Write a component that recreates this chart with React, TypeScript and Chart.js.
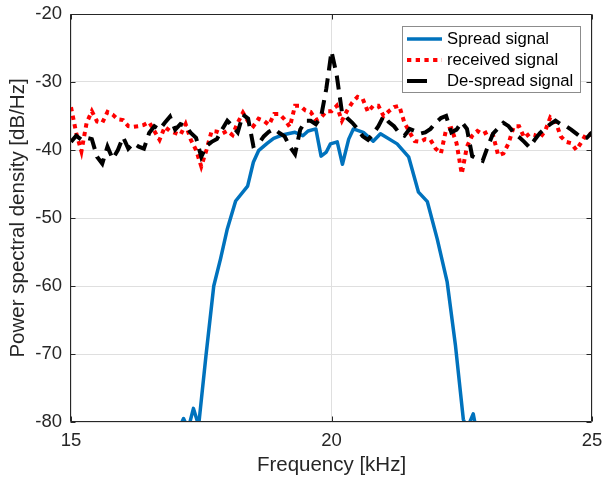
import React, { useEffect, useRef } from "react";
import { Chart, registerables } from "chart.js";

Chart.register(...registerables);

// Frequency grid (kHz) for received / de-spread PSD estimates
const FREQ = [
  15.0, 15.1, 15.2, 15.3, 15.4, 15.5, 15.6, 15.7, 15.8, 15.9,
  16.0, 16.1, 16.2, 16.3, 16.4, 16.5, 16.6, 16.7, 16.8, 16.9,
  17.0, 17.1, 17.2, 17.3, 17.4, 17.5, 17.6, 17.7, 17.8, 17.9,
  18.0, 18.1, 18.2, 18.3, 18.4, 18.5, 18.6, 18.7, 18.8, 18.9,
  19.0, 19.1, 19.2, 19.3, 19.4, 19.5, 19.6, 19.7, 19.8, 19.9,
  20.0, 20.1, 20.2, 20.3, 20.4, 20.5, 20.6, 20.7, 20.8, 20.9,
  21.0, 21.1, 21.2, 21.3, 21.4, 21.5, 21.6, 21.7, 21.8, 21.9,
  22.0, 22.1, 22.2, 22.3, 22.4, 22.5, 22.6, 22.7, 22.8, 22.9,
  23.0, 23.1, 23.2, 23.3, 23.4, 23.5, 23.6, 23.7, 23.8, 23.9,
  24.0, 24.1, 24.2, 24.3, 24.4, 24.5, 24.6, 24.7, 24.8, 24.9,
  25.0,
];

// received signal PSD [dB/Hz]
const RECEIVED = [
  -33.7, -37.5, -40.2, -36.0, -34.3, -35.8, -36.0, -34.4, -34.8, -35.5,
  -35.6, -36.5, -36.6, -36.5, -36.3, -35.9, -37.2, -38.5, -36.6, -37.2,
  -37.5, -37.8, -36.2, -38.5, -40.0, -42.4, -40.0, -37.2, -37.3, -37.6,
  -37.2, -37.8, -36.0, -34.5, -35.8, -36.5, -35.4, -35.7, -36.3, -34.7,
  -34.7, -35.5, -36.6, -33.5, -33.5, -34.2, -34.4, -35.6, -35.2, -34.3,
  -34.3, -33.5, -35.7, -34.2, -33.0, -32.2, -32.5, -34.4, -33.5, -33.5,
  -35.0, -34.3, -33.7, -33.5, -36.0, -37.4, -38.7, -38.8, -38.4, -38.5,
  -39.8, -40.5, -37.0, -36.8, -39.0, -43.5, -39.5, -37.9, -37.2, -37.7,
  -37.3, -37.8, -40.8, -40.5, -39.0, -36.5, -36.5, -38.2, -37.6, -37.8,
  -38.2, -37.2, -35.2, -35.8, -38.0, -38.8, -39.0, -40.0, -38.8, -37.5,
  -37.8,
];

// de-spread signal PSD [dB/Hz]
const DESPREAD = [
  -38.8, -37.9, -38.5, -38.2, -38.4, -41.0, -42.0, -39.5, -41.3, -40.0,
  -38.1, -39.8, -39.0, -39.5, -39.8, -37.5, -36.5, -37.0, -36.0, -35.1,
  -37.0, -36.2, -36.5, -37.5, -38.2, -41.0, -39.4, -38.8, -38.4, -37.0,
  -35.7, -36.5, -37.4, -34.8, -35.4, -39.4, -39.1, -38.0, -37.3, -36.9,
  -37.5, -38.0, -39.5, -40.6, -37.0, -35.7, -35.7, -36.2, -35.1, -31.0,
  -25.5, -29.0, -34.4, -35.3, -36.0, -36.9, -38.0, -38.5, -37.6, -36.5,
  -35.0, -35.9, -36.5, -37.5, -37.9, -36.9, -37.2, -37.6, -37.4, -36.9,
  -36.0, -35.3, -35.0, -37.4, -37.0, -35.9, -36.9, -40.9, -41.3, -41.6,
  -39.5, -37.6, -36.8, -36.0, -36.5, -37.5, -38.1, -38.8, -39.6, -38.5,
  -37.5, -36.8, -36.2, -35.7, -36.2, -36.5, -37.0, -37.6, -38.2, -38.2,
  -37.4,
];

// spread signal PSD
const SPREAD_FREQ = [
  16.9, 17.1, 17.16, 17.25, 17.35, 17.45, 17.59, 17.74, 17.87, 18.0,
  18.16, 18.39, 18.5, 18.6, 18.77, 18.89, 19.05, 19.3, 19.45, 19.55,
  19.7, 19.8, 19.9, 19.98, 20.11, 20.21, 20.33, 20.42, 20.61, 20.8,
  20.94, 21.26, 21.48, 21.67, 21.84, 22.03, 22.22, 22.38, 22.53, 22.6,
  22.72, 22.8,
];
const SPREAD = [
  -82.0, -80.5, -79.5, -81.0, -78.0, -80.5, -70.3, -60.0, -56.0, -51.6,
  -47.5, -45.3, -41.8, -40.1, -39.0, -38.3, -37.8, -37.4, -37.9, -37.2,
  -36.9, -40.9, -40.3, -39.1, -38.8, -42.1, -38.4, -36.9, -37.4, -38.7,
  -37.6, -39.1, -41.0, -46.2, -47.6, -53.1, -59.4, -68.8, -79.6, -81.0,
  -78.8, -82.0,
];

const X_TICKS = [15, 20, 25];
const Y_TICKS = [-80, -70, -60, -50, -40, -30, -20];
const SERIES_NAMES = ["Spread signal", "received signal", "De-spread signal"];
const X_TITLE = "Frequency [kHz]";
const Y_TITLE = "Power spectral density [dB/Hz]";

const FONT = "'Liberation Sans', Arial, Helvetica, sans-serif";
const AXIS_COLOR = "#262626";
const GRID_COLOR = "#dfdfdf";
const BLUE = "#0072BD";
const RED = "#FF0000";
const BLACK = "#000000";

const framePlugin = {
  id: "frame",
  afterDatasetsDraw(chart: any) {
    const { ctx, chartArea, scales } = chart;
    const l = Math.round(chartArea.left) - 0.5;
    const r = Math.round(chartArea.right) - 0.5;
    const t = Math.round(chartArea.top) + 0.5;
    const b = Math.round(chartArea.bottom) - 0.5;
    ctx.save();
    ctx.strokeStyle = AXIS_COLOR;
    ctx.lineWidth = 1;
    ctx.beginPath();
    ctx.rect(l, t, r - l, b - t);
    const tl = 5;
    for (const v of X_TICKS) {
      const px = Math.round(scales.x.getPixelForValue(v)) + 0.5;
      ctx.moveTo(px, b);
      ctx.lineTo(px, b - tl);
      ctx.moveTo(px, t);
      ctx.lineTo(px, t + tl);
    }
    for (const v of Y_TICKS) {
      const py = Math.round(scales.y.getPixelForValue(v)) + 0.5;
      ctx.moveTo(l, py);
      ctx.lineTo(l + tl, py);
      ctx.moveTo(r, py);
      ctx.lineTo(r - tl, py);
    }
    ctx.stroke();
    ctx.restore();
  },
};

const legendPlugin = {
  id: "customLegend",
  afterDraw(chart: any) {
    const { ctx } = chart;
    const bx = 402.5, by = 26.5, bw = 178, bh = 66;
    ctx.save();
    ctx.fillStyle = "#ffffff";
    ctx.fillRect(bx, by, bw, bh);
    ctx.strokeStyle = "#8c8c8c";
    ctx.lineWidth = 1;
    ctx.strokeRect(bx, by, bw, bh);
    const rows = [39, 60, 81];
    const styles = [
      { color: BLUE, width: 3.5, dash: [] as number[], x2: 442 },
      { color: RED, width: 4, dash: [4.3, 4.4], x2: 442 },
      { color: BLACK, width: 4, dash: [], x2: 427 },
    ];
    styles.forEach((s, i) => {
      ctx.beginPath();
      ctx.strokeStyle = s.color;
      ctx.lineWidth = s.width;
      ctx.lineCap = "butt";
      ctx.setLineDash(s.dash);
      ctx.moveTo(407, rows[i]);
      ctx.lineTo(s.x2, rows[i]);
      ctx.stroke();
    });
    ctx.setLineDash([]);
    ctx.fillStyle = "#000000";
    ctx.font = `16.7px ${FONT}`;
    ctx.textBaseline = "middle";
    ctx.textAlign = "left";
    SERIES_NAMES.forEach((name, i) => {
      ctx.fillText(name, 447, rows[i] + 0.5);
    });
    ctx.restore();
  },
};

const zeroPad = (s: any) => {
  s.paddingTop = 0;
  s.paddingBottom = 0;
  s.paddingLeft = 0;
  s.paddingRight = 0;
};

export default function App() {
  const ref = useRef<HTMLCanvasElement | null>(null);

  useEffect(() => {
    if (!ref.current) return;
    const chart = new Chart(ref.current, {
      type: "line",
      data: {
        datasets: [
          {
            label: SERIES_NAMES[0],
            data: SPREAD_FREQ.map((f, i) => ({ x: f, y: SPREAD[i] })),
            borderColor: BLUE,
            borderWidth: 3.5,
            pointRadius: 0,
            borderJoinStyle: "round",
            borderCapStyle: "round",
            tension: 0,
            order: 2,
          },
          {
            label: SERIES_NAMES[1],
            data: FREQ.map((f, i) => ({ x: f, y: RECEIVED[i] })),
            borderColor: RED,
            borderWidth: 4,
            borderDash: [4.3, 4.4],
            borderCapStyle: "butt",
            pointRadius: 0,
            tension: 0,
            order: 1,
          },
          {
            label: SERIES_NAMES[2],
            data: FREQ.map((f, i) => ({ x: f, y: DESPREAD[i] })),
            borderColor: BLACK,
            borderWidth: 4,
            borderDash: [14, 8],
            borderCapStyle: "butt",
            pointRadius: 0,
            tension: 0,
            order: 0,
          },
        ],
      },
      options: {
        responsive: false,
        animation: false,
        devicePixelRatio: 1,
        layout: { padding: { top: 14, right: 12, left: 0, bottom: 0 } },
        plugins: {
          legend: { display: false },
          tooltip: { enabled: false },
        },
        scales: {
          x: {
            type: "linear",
            min: 15,
            max: 25,
            afterBuildTicks: (s: any) => {
              s.ticks = X_TICKS.map((v) => ({ value: v }));
            },
            afterFit: (s: any) => {
              s.height = 59;
              zeroPad(s);
            },
            grid: { color: GRID_COLOR, drawTicks: false, lineWidth: 1 },
            border: { display: false },
            ticks: {
              padding: 8,
              color: AXIS_COLOR,
              font: { family: FONT, size: 18.5 },
              maxRotation: 0,
            },
            title: {
              display: true,
              text: X_TITLE,
              color: AXIS_COLOR,
              font: { family: FONT, size: 20.5 },
              padding: { top: 0, bottom: 3 },
            },
          },
          y: {
            type: "linear",
            min: -80,
            max: -20,
            afterBuildTicks: (s: any) => {
              s.ticks = Y_TICKS.map((v) => ({ value: v }));
            },
            afterFit: (s: any) => {
              s.width = 71;
              zeroPad(s);
            },
            grid: { color: GRID_COLOR, drawTicks: false, lineWidth: 1 },
            border: { display: false },
            ticks: {
              padding: 9,
              color: AXIS_COLOR,
              font: { family: FONT, size: 18.5 },
            },
            title: {
              display: true,
              text: Y_TITLE,
              color: AXIS_COLOR,
              font: { family: FONT, size: 20.5 },
              padding: { top: 6.5, bottom: 0 },
            },
          },
        },
      },
      plugins: [framePlugin, legendPlugin],
    } as any);
    return () => chart.destroy();
  }, []);

  return (
    <div style={{ position: "fixed", left: 0, top: 0, width: 604, height: 481, background: "#fff" }}>
      <canvas ref={ref} width={604} height={481} style={{ display: "block" }} />
    </div>
  );
}
